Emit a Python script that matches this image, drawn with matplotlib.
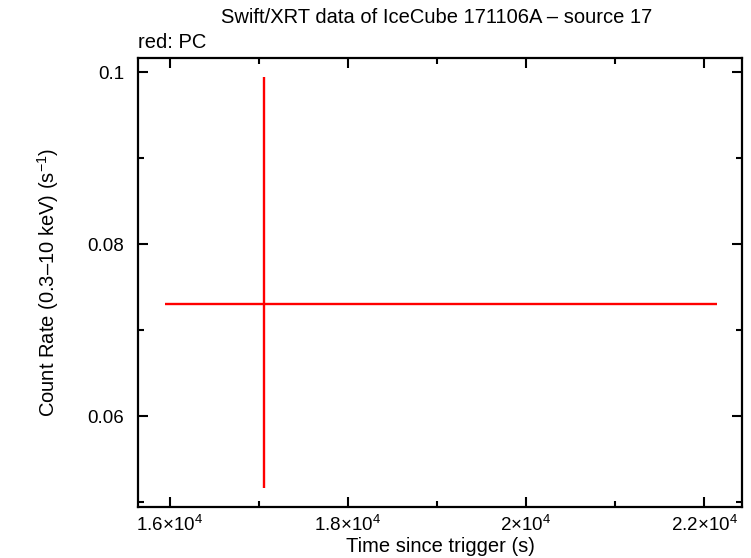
#!/usr/bin/env python3
"""Swift/XRT light curve of IceCube 171106A - source 17."""

import matplotlib
matplotlib.use('Agg')
import matplotlib.pyplot as plt
from matplotlib.ticker import MultipleLocator, FuncFormatter

plt.rcParams['font.family'] = ['Liberation Sans', 'DejaVu Sans']
plt.rcParams['mathtext.fontset'] = 'custom'
plt.rcParams['mathtext.rm'] = 'Liberation Sans'
plt.rcParams['mathtext.it'] = 'Liberation Sans'
plt.rcParams['mathtext.default'] = 'rm'

# PC mode data (one bin)
time = [17063]
time_err_lo = [1115]
time_err_hi = [5077]
rate = [0.07305]
rate_err_lo = [0.02144]
rate_err_hi = [0.02635]

x_ticks = [16000, 18000, 20000, 22000]


def sci_fmt(v, pos):
    m = v / 1e4
    return r'$%s{\times}10^{4}$' % ('%g' % m)


fig = plt.figure(figsize=(7.51, 5.58), dpi=100)
ax = fig.add_axes([0.1838, 0.0919, 0.988 - 0.1838, 0.8955 - 0.0919])

ax.errorbar(time, rate, xerr=[time_err_lo, time_err_hi],
            yerr=[rate_err_lo, rate_err_hi], fmt='none', ecolor='#ff0000',
            elinewidth=1.7, capsize=0)

ax.set_xlim(15645, 22424)
ax.set_ylim(0.04947, 0.10162)

ax.set_xticks(x_ticks)
ax.xaxis.set_minor_locator(MultipleLocator(1000))
ax.xaxis.set_major_formatter(FuncFormatter(sci_fmt))
ax.yaxis.set_major_locator(MultipleLocator(0.02))
ax.yaxis.set_minor_locator(MultipleLocator(0.01))
ax.yaxis.set_major_formatter(FuncFormatter(lambda v, p: '%g' % round(v, 3)))

ax.tick_params(which='both', direction='in', top=True, right=True,
               width=1.5, color='black')
ax.tick_params(which='major', length=7)
ax.tick_params(which='minor', length=4)
ax.tick_params(axis='x', which='major', labelsize=13.5, pad=6)
ax.tick_params(axis='y', which='major', labelsize=13.5, pad=10)
for sp in ax.spines.values():
    sp.set_linewidth(1.6)

ax.set_xlabel('Time since trigger (s)', fontsize=14.5)
ax.xaxis.set_label_coords(0.5, -0.068)
ax.set_ylabel('Count Rate (0.3\u201310 keV) (s$^{-1}$)', fontsize=14.5)
ax.yaxis.set_label_coords(-0.128, 0.5)

fig.text(0.582, 0.968, 'Swift/XRT data of IceCube 171106A \u2013 source 17',
         ha='center', va='center', fontsize=14.5)
fig.text(0.184, 0.924, 'red: PC', ha='left', va='center', fontsize=14.5)

fig.savefig('out.png', dpi=100, facecolor='white')
